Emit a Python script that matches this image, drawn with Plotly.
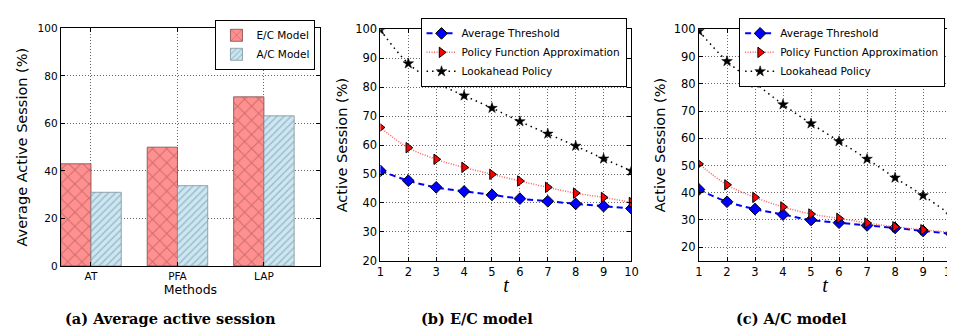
import plotly.graph_objects as go

# ---- data ----
methods = ["AT", "PFA", "LAP"]
method_pos = [0, 1, 2]
ec_avg = [43.0, 50.0, 71.2]
ac_avg = [31.0, 33.8, 63.2]

t_vals = [1, 2, 3, 4, 5, 6, 7, 8, 9, 10]
ec_at = [51.1, 47.7, 45.4, 44.0, 42.8, 41.5, 40.6, 39.7, 38.9, 38.1]
ec_pfa = [66.1, 59.1, 55.1, 52.3, 49.9, 47.6, 45.4, 43.4, 41.9, 40.2]
ec_lap = [99.8, 88.2, 81.6, 77.1, 72.8, 68.2, 63.9, 59.7, 55.3, 51.1]

ac_at = [41.2, 36.7, 34.0, 32.0, 30.0, 29.0, 28.0, 27.1, 26.0, 25.0]
ac_pfa = [50.6, 42.9, 38.3, 34.8, 32.2, 30.6, 28.9, 27.5, 26.4, 25.4]
ac_lap = [99.4, 88.3, 80.3, 72.4, 65.4, 58.9, 52.4, 45.5, 39.0, 31.8]

series_names = ["Average Threshold", "Policy Function Approximation", "Lookahead Policy"]
captions = ["(a) Average active session", "(b) E/C model", "(c) A/C model"]

W, H = 955, 331
def px(x): return x / W
def py(y): return 1 - y / H

fig = go.Figure()

# ---- panel (a) bars ----
fig.add_trace(go.Bar(
    x=method_pos, y=ec_avg, name="E/C Model", width=0.35, offset=-0.35,
    marker=dict(color="#ff9090", line=dict(color="#7a4a4a", width=0.8),
                pattern=dict(shape="x", fgcolor="#a04848", size=10, solidity=0.2)),
    xaxis="x", yaxis="y", legend="legend"))
fig.add_trace(go.Bar(
    x=method_pos, y=ac_avg, name="A/C Model", width=0.35, offset=0,
    marker=dict(color="#cde7f2", line=dict(color="#7f9099", width=0.8),
                pattern=dict(shape="/", fgcolor="#6f93a5", size=5, solidity=0.3)),
    xaxis="x", yaxis="y", legend="legend"))

def add_lines(xa, ya, lg, at, pfa, lap):
    fig.add_trace(go.Scatter(
        x=t_vals, y=at, name=series_names[0], mode="lines+markers",
        line=dict(color="#0000ff", width=2, dash="6px,4px", shape="spline"),
        marker=dict(symbol="diamond", size=9, color="#0000ff", line=dict(color="black", width=1)),
        xaxis=xa, yaxis=ya, legend=lg))
    fig.add_trace(go.Scatter(
        x=t_vals, y=pfa, name=series_names[1], mode="lines+markers",
        line=dict(color="#ff6060", width=1.5, dash="1px,1.5px", shape="spline"),
        marker=dict(symbol="triangle-right", size=9, color="#ff0000", line=dict(color="black", width=1)),
        xaxis=xa, yaxis=ya, legend=lg))
    fig.add_trace(go.Scatter(
        x=t_vals, y=lap, name=series_names[2], mode="lines+markers",
        line=dict(color="black", width=1.5, dash="1.5px,4px", shape="spline"),
        marker=dict(symbol="star", size=8, color="black", line=dict(color="black", width=0.5)),
        xaxis=xa, yaxis=ya, legend=lg))

add_lines("x2", "y2", "legend2", ec_at, ec_pfa, ec_lap)
add_lines("x3", "y3", "legend3", ac_at, ac_pfa, ac_lap)

tick_font = dict(family="DejaVu Sans", size=11.5, color="black")
tick_font_a = dict(family="DejaVu Sans", size=10.5, color="black")
ax_common = dict(showline=True, linecolor="black", linewidth=1, mirror="ticks",
                 ticks="inside", ticklen=4, tickcolor="black",
                 showgrid=True, gridcolor="#666666", gridwidth=1, griddash="1px,2px",
                 zeroline=False)

leg_common = dict(xanchor="right", yanchor="top", bgcolor="white",
                  bordercolor="black", borderwidth=1,
                  font=dict(family="DejaVu Sans", size=10.5, color="black"),
                  tracegroupgap=0, itemwidth=30)

layout = dict(
    width=W, height=H, margin=dict(l=0, r=0, t=0, b=0),
    paper_bgcolor="white", plot_bgcolor="white", barmode="overlay",
    xaxis=dict(domain=[px(49.3), px(311.7)], range=[-0.35, 2.65], anchor="y",
               tickvals=method_pos, ticktext=methods, tickfont=tick_font_a,
               title=dict(text="Methods", font=dict(family="DejaVu Sans", size=12.5, color="black"), standoff=0),
               **ax_common),
    yaxis=dict(domain=[py(262), py(14)], range=[0, 100], anchor="x", dtick=20,
               tickfont=tick_font_a,
               title=dict(text="Average Active Session (%)", font=dict(family="DejaVu Sans", size=14.5, color="black"), standoff=6),
               **ax_common),
    xaxis2=dict(domain=[px(372.7), px(626.7)], range=[1, 10], anchor="y2", dtick=1,
                tickfont=tick_font,
                title=dict(text="<i>t</i>", font=dict(family="Liberation Serif", size=20, color="black"), standoff=0),
                **ax_common),
    yaxis2=dict(domain=[py(256.7), py(15)], range=[20, 100], anchor="x2", dtick=10,
                tickfont=tick_font,
                title=dict(text="Active Session (%)", font=dict(family="DejaVu Sans", size=14.5, color="black"), standoff=4),
                **ax_common),
    xaxis3=dict(domain=[px(695), px(950)], range=[1, 10], anchor="y3", dtick=1,
                tickfont=tick_font,
                title=dict(text="<i>t</i>", font=dict(family="Liberation Serif", size=20, color="black"), standoff=0),
                **ax_common),
    yaxis3=dict(domain=[py(256.7), py(15)], range=[15, 100], anchor="x3",
                tickvals=[20, 30, 40, 50, 60, 70, 80, 90, 100],
                tickfont=tick_font,
                title=dict(text="Active Session (%)", font=dict(family="DejaVu Sans", size=14.5, color="black"), standoff=4),
                **ax_common),
    legend=dict(x=px(307), y=py(5), **leg_common),
    legend2=dict(x=px(621.7), y=py(3), **leg_common),
    legend3=dict(x=px(944), y=py(3), **leg_common),
    showlegend=True,
)
fig.update_layout(**layout)

cap_x = [160, 470, 789]
for cx, txt in zip(cap_x, captions):
    fig.add_annotation(x=px(cx), y=py(317), xref="paper", yref="paper",
                       text="<b>" + txt + "</b>", showarrow=False,
                       xanchor="center", yanchor="middle",
                       font=dict(family="DejaVu Serif", size=14.5, color="black"))

fig.write_html("out.html")
